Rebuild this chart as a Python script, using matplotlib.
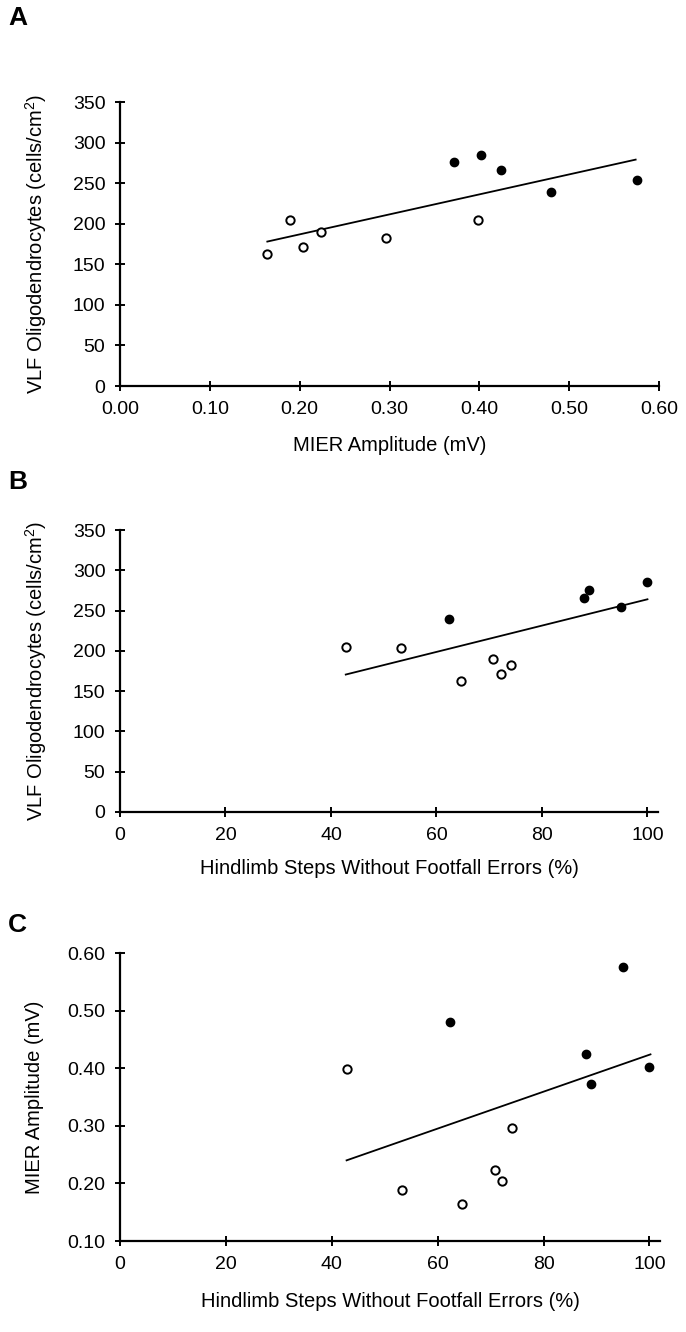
import matplotlib
matplotlib.use('Agg')
import matplotlib.pyplot as plt

plt.rcParams['font.family'] = ['Liberation Sans', 'DejaVu Sans']
plt.rcParams['mathtext.fontset'] = 'custom'
plt.rcParams['mathtext.rm'] = 'Liberation Sans'
plt.rcParams['mathtext.it'] = 'Liberation Sans'

# === Data ===

# open circles group
open_mier = [0.164, 0.189, 0.204, 0.224, 0.296, 0.399]
open_vlf = [163, 204, 171, 190, 182, 205]
open_steps = [64.6, 53.3, 72.2, 70.8, 74.1, 42.8]

# filled circles group
fill_mier = [0.372, 0.402, 0.424, 0.480, 0.575]
fill_vlf = [276, 285, 266, 239, 254]
fill_steps = [88.9, 100.0, 88.0, 62.4, 95.0]

# trend lines (end points)
fitA_x = [0.164, 0.574]
fitA_y = [178, 279]
fitB_x = [42.8, 100.0]
fitB_y = [170.6, 264]
fitC_x = [42.8, 100.2]
fitC_y = [0.240, 0.424]

vlf_label = 'VLF Oligodendrocytes (cells/cm$^{2}$)'
steps_label = 'Hindlimb Steps Without Footfall Errors (%)'
mier_label = 'MIER Amplitude (mV)'

W, H = 686, 1332
fig = plt.figure(figsize=(W / 100, H / 100), dpi=100)


def make_axes(left, right, top, bottom):
    return fig.add_axes([left / W, 1 - bottom / H, (right - left) / W, (bottom - top) / H])


def style(ax):
    for s in ['top', 'right']:
        ax.spines[s].set_visible(False)
    for s in ['left', 'bottom']:
        ax.spines[s].set_linewidth(1.6)
    ax.tick_params(direction='inout', length=7, width=1.4, labelsize=14, pad=7)


def scatter(ax, xo, yo, xf, yf, fx, fy):
    ax.plot(fx, fy, color='black', lw=1.3)
    ax.plot(xo, yo, 'o', ms=6, mfc='white', mec='black', mew=1.4, clip_on=False)
    ax.plot(xf, yf, 'o', ms=6, mfc='black', mec='black', clip_on=False)


# === Panel A ===
axA = make_axes(120, 659, 102, 386)
scatter(axA, open_mier, open_vlf, fill_mier, fill_vlf, fitA_x, fitA_y)
axA.set_xlim(0, 0.6)
axA.set_ylim(0, 350)
axA.set_xticks([0.0, 0.1, 0.2, 0.3, 0.4, 0.5, 0.6])
axA.set_xticklabels(['%.2f' % v for v in axA.get_xticks()])
axA.set_yticks(range(0, 351, 50))
axA.set_xlabel(mier_label, fontsize=14.5, labelpad=13)
axA.set_ylabel(vlf_label, fontsize=14.5, labelpad=17)
style(axA)

# === Panel B ===
axB = make_axes(120, 658, 530, 812)
scatter(axB, open_steps, open_vlf, fill_steps, fill_vlf, fitB_x, fitB_y)
axB.set_xlim(0, 102)
axB.set_ylim(0, 350)
axB.set_xticks(range(0, 101, 20))
axB.set_yticks(range(0, 351, 50))
axB.set_xlabel(steps_label, fontsize=14.5, labelpad=11)
axB.set_ylabel(vlf_label, fontsize=14.5, labelpad=17)
style(axB)

# === Panel C ===
axC = make_axes(120, 660, 953, 1241)
scatter(axC, open_steps, open_mier, fill_steps, fill_mier, fitC_x, fitC_y)
axC.set_xlim(0, 102)
axC.set_ylim(0.1, 0.6)
axC.set_xticks(range(0, 101, 20))
axC.set_yticks([0.1, 0.2, 0.3, 0.4, 0.5, 0.6])
axC.set_yticklabels(['%.2f' % v for v in axC.get_yticks()])
axC.set_xlabel(steps_label, fontsize=14.5, labelpad=14)
axC.set_ylabel(mier_label, fontsize=14.5, labelpad=17)
style(axC)

# panel letters
for letter, ypix in [('A', 18), ('B', 482), ('C', 925)]:
    fig.text(8 / W, 1 - ypix / H, letter, fontsize=19, fontweight='bold', va='center', ha='left')

fig.savefig('out.png', dpi=100, facecolor='white')
